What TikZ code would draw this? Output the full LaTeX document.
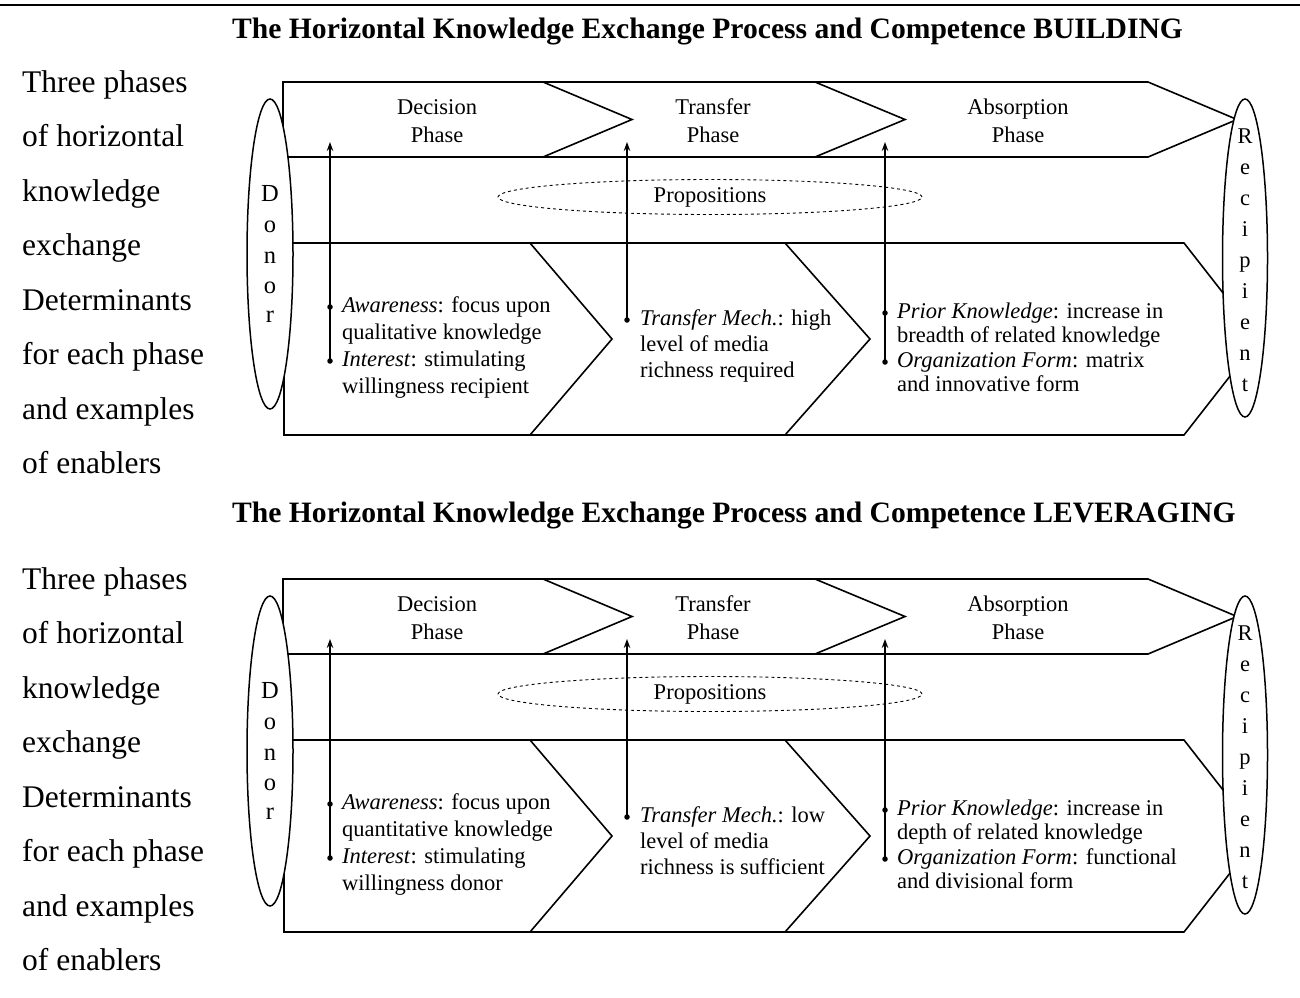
\documentclass[tikz,border=0pt]{standalone}
\usepackage{fontspec}
\setmainfont{Liberation Serif}
\usetikzlibrary{arrows.meta,shapes.geometric}
\newcommand\tline[4]{\node[txt] (#1) at (#2,#3) {#4};}
\newcommand\lline[3]{\node[lefttxt] (#1) at (22,#2) {#3};}
\begin{document}
\begin{tikzpicture}[x=1pt,y=-1pt,
  band/.style={line width=1.6pt, line join=miter},
  txt/.style={anchor=base west, inner sep=0pt, font=\fontsize{22.5}{25}\selectfont},
  lefttxt/.style={anchor=base west, inner sep=0pt, font=\fontsize{31.5}{34}\selectfont},
  phase/.style={anchor=base, inner sep=0pt, font=\fontsize{22.5}{25}\selectfont},
  letter/.style={anchor=base, inner sep=0pt, font=\fontsize{22.5}{25}\selectfont},
  dletter/.style={anchor=base, inner sep=0pt, font=\fontsize{24.5}{27}\selectfont},
  titletxt/.style={anchor=base west, inner sep=0pt, font=\bfseries\fontsize{29.6}{32}\selectfont},
  party/.style={draw, ellipse, fill=white, line width=1.5pt, inner sep=0pt},
  prop/.style={draw, ellipse, dashed, line width=0.9pt, inner sep=0pt, minimum width=424pt, minimum height=35pt, font=\fontsize{22.5}{25}\selectfont},
  dot/.style={circle, fill=black, inner sep=0pt, minimum size=5.5pt},
  arr/.style={line width=1.1pt, -{Stealth[length=9pt,width=6.5pt]}}
]
\useasboundingbox (0,0) rectangle (1300,997);
\draw[line width=2.6pt] (0,5) -- (1300,5);

% ---------------- Panel 1 ----------------
\node[titletxt] (title1) at (232,38) {The Horizontal Knowledge Exchange Process and Competence BUILDING};
\lline{la1}{92}{Three phases}
\lline{la2}{146.5}{of horizontal}
\lline{la3}{201}{knowledge}
\lline{la4}{255.5}{exchange}
\lline{la5}{310}{Determinants}
\lline{la6}{364.5}{for each phase}
\lline{la7}{419}{and examples}
\lline{la8}{473.5}{of enablers}

\draw[band] (283,82) -- (1148,82) -- (1237,119.5) -- (1148,157) -- (283,157) -- cycle;
\draw[band] (543,82) -- (632,119.5) -- (543,157);
\draw[band] (815,82) -- (905,119.5) -- (815,157);
\draw[band] (284,243) -- (1184,243) -- (1259,339) -- (1184,435) -- (284,435) -- cycle;
\draw[band] (530,243) -- (612,339) -- (530,435);
\draw[band] (785,243) -- (870,339) -- (785,435);

\node[phase] (pd1) at (437,114) {Decision};
\node[phase] (pd2) at (437,142) {Phase};
\node[phase] (pt1) at (713,114) {Transfer};
\node[phase] (pt2) at (713,142) {Phase};
\node[phase] (pa1) at (1018,114) {Absorption};
\node[phase] (pa2) at (1018,142) {Phase};

\node[prop] (props) at (710,197) {Propositions};

\node[dot] (ba1) at (330,307) {};
\node[dot] (ba2) at (330,361) {};
\node[dot] (bt1) at (627,320) {};
\node[dot] (bp1) at (885,313) {};
\node[dot] (bp2) at (885,362) {};
\coordinate (ta) at (330,142);
\coordinate (tt) at (627,142);
\coordinate (tp) at (885,142);
\draw[arr] (ba2.center) -- (ta);
\draw[arr] (bt1.center) -- (tt);
\draw[arr] (bp2.center) -- (tp);

\tline{d1}{342}{312}{\textit{Awareness}: focus upon}
\tline{d2}{342}{339}{qualitative knowledge}
\tline{d3}{342}{366}{\textit{Interest}: stimulating}
\tline{d4}{342}{393}{willingness recipient}
\tline{m1}{640}{325}{\textit{Transfer Mech.}: high}
\tline{m2}{640}{351}{level of media}
\tline{m3}{640}{377}{richness required}
\tline{a1}{897}{318}{\textit{Prior Knowledge}: increase in}
\tline{a2}{897}{342.5}{breadth of related knowledge}
\tline{a3}{897}{367}{\textit{Organization Form}: matrix}
\tline{a4}{897}{391.5}{and innovative form}

\node[party, minimum width=46pt, minimum height=310pt] (donor) at (270,254) {};
\node[dletter] at (270,201) {D};
\node[dletter] at (270,232) {o};
\node[dletter] at (270,263) {n};
\node[dletter] at (270,293) {o};
\node[dletter] at (270,322) {r};
\node[party, minimum width=45pt, minimum height=318pt] (recip) at (1245,258) {};
\foreach \c [count=\i from 0] in {R,e,c,i,p,i,e,n,t}
  \node[letter] at (1245,143+31.1*\i) {\c};

% ---------------- Panel 2 ----------------
\node[titletxt] (title2) at (232,522) {The Horizontal Knowledge Exchange Process and Competence LEVERAGING};
\begin{scope}[shift={(0,497)}]
\lline{lb1}{92}{Three phases}
\lline{lb2}{146.5}{of horizontal}
\lline{lb3}{201}{knowledge}
\lline{lb4}{255.5}{exchange}
\lline{lb5}{310}{Determinants}
\lline{lb6}{364.5}{for each phase}
\lline{lb7}{419}{and examples}
\lline{lb8}{473.5}{of enablers}

\draw[band] (283,82) -- (1148,82) -- (1237,119.5) -- (1148,157) -- (283,157) -- cycle;
\draw[band] (543,82) -- (632,119.5) -- (543,157);
\draw[band] (815,82) -- (905,119.5) -- (815,157);
\draw[band] (284,243) -- (1184,243) -- (1259,339) -- (1184,435) -- (284,435) -- cycle;
\draw[band] (530,243) -- (612,339) -- (530,435);
\draw[band] (785,243) -- (870,339) -- (785,435);

\node[phase] (qd1) at (437,114) {Decision};
\node[phase] (qd2) at (437,142) {Phase};
\node[phase] (qt1) at (713,114) {Transfer};
\node[phase] (qt2) at (713,142) {Phase};
\node[phase] (qa1) at (1018,114) {Absorption};
\node[phase] (qa2) at (1018,142) {Phase};

\node[prop] (propsb) at (710,197) {Propositions};

\node[dot] (ca1) at (330,307) {};
\node[dot] (ca2) at (330,361) {};
\node[dot] (ct1) at (627,320) {};
\node[dot] (cp1) at (885,313) {};
\node[dot] (cp2) at (885,362) {};
\coordinate (ua) at (330,142);
\coordinate (ut) at (627,142);
\coordinate (up) at (885,142);
\draw[arr] (ca2.center) -- (ua);
\draw[arr] (ct1.center) -- (ut);
\draw[arr] (cp2.center) -- (up);

\tline{e1}{342}{312}{\textit{Awareness}: focus upon}
\tline{e2}{342}{339}{quantitative knowledge}
\tline{e3}{342}{366}{\textit{Interest}: stimulating}
\tline{e4}{342}{393}{willingness donor}
\tline{n1}{640}{325}{\textit{Transfer Mech.}: low}
\tline{n2}{640}{351}{level of media}
\tline{n3}{640}{377}{richness is sufficient}
\tline{f1}{897}{318}{\textit{Prior Knowledge}: increase in}
\tline{f2}{897}{342.5}{depth of related knowledge}
\tline{f3}{897}{367}{\textit{Organization Form}: functional}
\tline{f4}{897}{391.5}{and divisional form}

\node[party, minimum width=46pt, minimum height=310pt] (donorb) at (270,254) {};
\node[dletter] at (270,201) {D};
\node[dletter] at (270,232) {o};
\node[dletter] at (270,263) {n};
\node[dletter] at (270,293) {o};
\node[dletter] at (270,322) {r};
\node[party, minimum width=45pt, minimum height=318pt] (recipb) at (1245,258) {};
\foreach \c [count=\i from 0] in {R,e,c,i,p,i,e,n,t}
  \node[letter] at (1245,143+31.1*\i) {\c};
\end{scope}
\end{tikzpicture}
\end{document}
